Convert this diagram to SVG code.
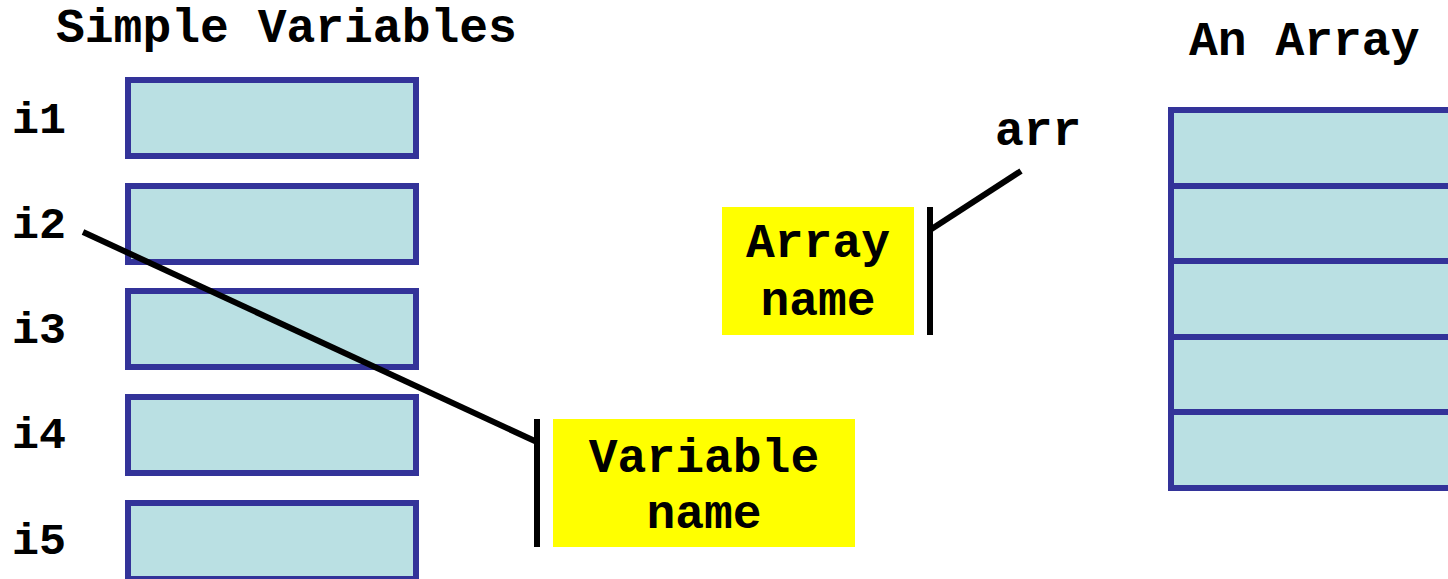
<svg xmlns="http://www.w3.org/2000/svg" width="1448" height="579" viewBox="0 0 1448 579">
<style>
text{font-family:"Liberation Mono","Courier New",monospace;font-weight:bold;fill:#000}
.t{font-size:48px}
.l{font-size:45px}
.c{text-anchor:middle}
.cell{fill:#BAE0E3;stroke:#333399;stroke-width:6}
.note{fill:#FFFF00}
.ln{stroke:#000;stroke-width:6;fill:none}
</style>
<rect width="1448" height="579" fill="#fff"/>
<text class="t" x="56" y="42">Simple Variables</text>
<text class="t" x="1189" y="55">An Array</text>
<g id="i1"><rect class="cell" x="128" y="80" width="288" height="76"/><text class="l" x="12" y="133">i1</text></g>
<g id="i2"><rect class="cell" x="128" y="186" width="288" height="76"/><text class="l" x="12" y="238">i2</text></g>
<g id="i3"><rect class="cell" x="128" y="291" width="288" height="76"/><text class="l" x="12" y="343">i3</text></g>
<g id="i4"><rect class="cell" x="128" y="397" width="288" height="76"/><text class="l" x="12" y="448">i4</text></g>
<g id="i5"><rect class="cell" x="128" y="503" width="288" height="76"/><text class="l" x="12" y="554">i5</text></g>
<g id="arr">
<text class="t" x="995" y="145">arr</text>
<rect class="cell" x="1171" y="110" width="300" height="76"/>
<rect class="cell" x="1171" y="186" width="300" height="75"/>
<rect class="cell" x="1171" y="261" width="300" height="76"/>
<rect class="cell" x="1171" y="337" width="300" height="75"/>
<rect class="cell" x="1171" y="412" width="300" height="76"/>
</g>
<g id="array-name-note"><rect class="note" x="722" y="207" width="192" height="128"/><text class="t c" x="818" y="257">Array</text><text class="t c" x="818" y="315">name</text></g>
<g id="variable-name-note"><rect class="note" x="553" y="419" width="302" height="128"/><text class="t c" x="704" y="472">Variable</text><text class="t c" x="704" y="528">name</text></g>
<g id="connectors">
<line class="ln" x1="930" y1="207" x2="930" y2="335"/>
<line class="ln" x1="930" y1="230" x2="1021" y2="171"/>
<line class="ln" x1="537" y1="419" x2="537" y2="547"/>
<line class="ln" x1="83" y1="232" x2="537" y2="442"/>
</g>
</svg>
